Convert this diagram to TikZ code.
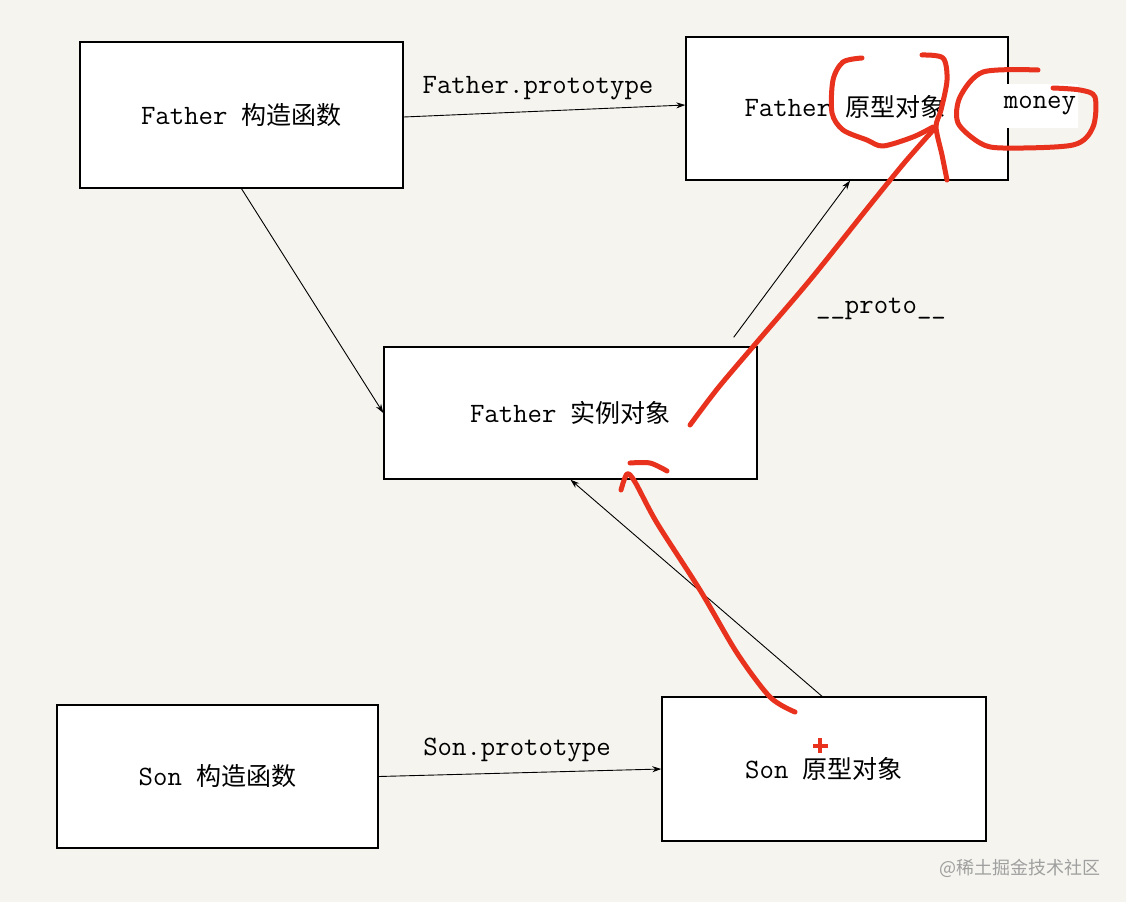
\documentclass[tikz,border=0pt]{standalone}
\usepackage{fontspec}
\newfontfamily\cjk{Noto Sans CJK SC}
\usetikzlibrary{arrows.meta}
\definecolor{paper}{RGB}{245,244,239}
\definecolor{pen}{RGB}{232,50,30}
\newcommand{\zh}[1]{{\cjk\fontsize{25}{28}\selectfont #1}}

\begin{document}
\begin{tikzpicture}[x=1pt, y=-1pt,
  every node/.style={font=\ttfamily\fontsize{28}{32}\selectfont},
  objbox/.style={draw, line width=1.4pt, fill=white, inner sep=0pt},
  link/.style={-{Stealth[length=9pt,width=6pt]}, line width=0.9pt},
  scribble/.style={pen, line width=5pt, line cap=round, line join=round}]
  \fill[paper] (0,0) rectangle (1126,902);
  \useasboundingbox (0,0) rectangle (1126,902);

  % boxes
  \node[objbox, minimum width=323pt, minimum height=146pt] (fctor) at (241.5,115) {Father \zh{构造函数}};
  \node[objbox, minimum width=322pt, minimum height=143pt] (fproto) at (847,108.5) {};
  \node (fprototxt) at (845,107) {Father \zh{原型对象}};
  \node[fill=white, inner sep=0pt, minimum height=44pt, minimum width=76pt] (money) at (1040,106) {money};
  \node[objbox, minimum width=373pt, minimum height=132pt] (finst) at (570.5,413) {Father \zh{实例对象}};
  \node[objbox, minimum width=321pt, minimum height=143pt] (sctor) at (217.5,776.5) {Son \zh{构造函数}};
  \node[objbox, minimum width=324pt, minimum height=144pt] (sproto) at (824,769) {Son \zh{原型对象}};

  % labels
  \node (lblfp) at (538,88) {Father.prototype};
  \node (lblproto) at (881,309) {\_\_proto\_\_};
  \node (lblsp) at (517,750) {Son.prototype};

  % links
  \draw[link] ([yshift=-2pt]fctor.east) -- ([yshift=3.5pt]fproto.west);
  \draw[link] (fctor.south) -- (finst.west);
  \draw[link] ([xshift=-24pt,yshift=9pt]finst.north east) -- ([xshift=3pt]fproto.south);
  \draw[link] ([xshift=-2pt]sproto.north) -- (finst.south);
  \draw[link] (sctor.east) -- (sproto.west);

  % red pen
  \draw[scribble] plot[smooth] coordinates {(862,58) (843,62) (833,80) (832,113) (843,130) (867,140) (883,146) (913,137) (933,127)};
  \draw[scribble] plot[smooth] coordinates {(922,55) (943,58) (947,80) (941,110) (936,127) (942,155) (947,180)};
  \draw[scribble] plot[smooth] coordinates {(690,425) (718,388) (757,342) (810,280) (870,205) (905,162) (935,128)};
  \draw[scribble] plot[smooth] coordinates {(1038,70) (983,72) (960,97) (958,123) (980,143) (1003,148) (1073,145) (1093,127) (1095,97) (1080,90) (1053,88)};
  \draw[scribble] plot[smooth] coordinates {(795,712) (770,697) (737,653) (700,590) (657,523) (635,482) (627,474) (621,490)};
  \draw[scribble] plot[smooth] coordinates {(630,463) (650,463) (667,471)};
  \draw[pen, line width=3.5pt] (820,738) -- (820,753) (813,746) -- (828,746);

  \node[text=gray!75, font=\cjk\fontsize{18}{20}\selectfont] (mark) at (1020,868) {@稀土掘金技术社区};
\end{tikzpicture}
\end{document}
